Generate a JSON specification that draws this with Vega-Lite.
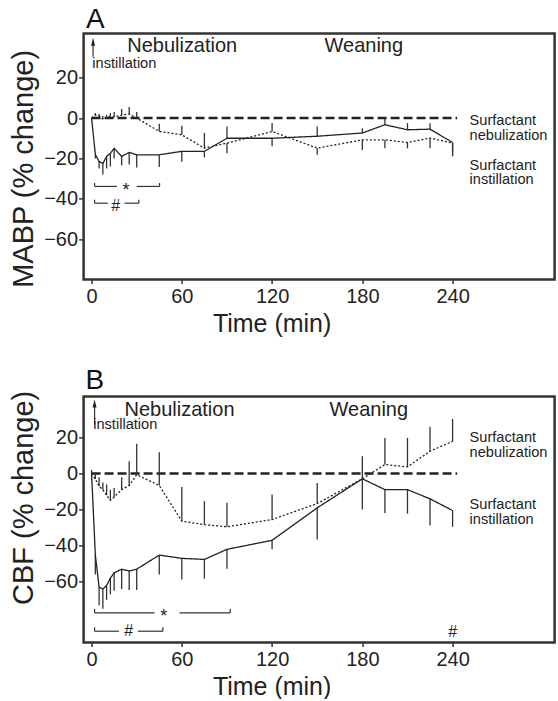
{
 "$schema": "https://vega.github.io/schema/vega-lite/v6.json",
 "autosize": {"type": "pad"},
 "padding": {"left": 8.6, "top": 5.4, "right": 0, "bottom": 0},
 "background": "white",
 "spacing": 117,
 "bounds": "flush",
 "resolve": {"scale": {"x": "independent", "y": "independent"}},
 "config": {
  "view": {"stroke": null},
  "font": "Liberation Sans",
  "axis": {"domain": false, "grid": false, "tickColor": "#333", "tickWidth": 1.5, "tickSize": 5, "labelFont": "Liberation Sans", "labelFontSize": 20, "labelColor": "#222", "titleFont": "Liberation Sans", "titleFontWeight": "normal", "titleColor": "#222", "labelFlush": false}
 },
 "datasets": {
  "a_series": [
   {"s": "inst", "t": 0, "v": 0, "e": 0}, {"s": "inst", "t": 2.5, "v": -18, "e": -20}, {"s": "inst", "t": 5, "v": -21.5, "e": -25}, {"s": "inst", "t": 7.5, "v": -22.5, "e": -28}, {"s": "inst", "t": 10, "v": -19, "e": -25}, {"s": "inst", "t": 12.5, "v": -17.5, "e": -24}, {"s": "inst", "t": 15, "v": -15, "e": -20}, {"s": "inst", "t": 20, "v": -19, "e": -23.5}, {"s": "inst", "t": 25, "v": -17, "e": -23}, {"s": "inst", "t": 30, "v": -18.2, "e": -24.5}, {"s": "inst", "t": 45, "v": -18.2, "e": -24.3}, {"s": "inst", "t": 60, "v": -16.5, "e": -21.6}, {"s": "inst", "t": 75, "v": -16.5, "e": -19.5}, {"s": "inst", "t": 90, "v": -10, "e": -4.2}, {"s": "inst", "t": 120, "v": -10, "e": -14}, {"s": "inst", "t": 150, "v": -9, "e": -4.2}, {"s": "inst", "t": 180, "v": -7.4, "e": -5}, {"s": "inst", "t": 195, "v": -3.3, "e": 0}, {"s": "inst", "t": 210, "v": -5.8, "e": -2.5}, {"s": "inst", "t": 225, "v": -5.5, "e": -2.5}, {"s": "inst", "t": 240, "v": -12.1, "e": -19},
   {"s": "neb", "t": 0, "v": 0, "e": 0}, {"s": "neb", "t": 2.5, "v": 1.5, "e": 2.5}, {"s": "neb", "t": 5, "v": 1, "e": 2}, {"s": "neb", "t": 7.5, "v": -0.5, "e": 1}, {"s": "neb", "t": 10, "v": 0, "e": 1.5}, {"s": "neb", "t": 12.5, "v": 1, "e": 2.5}, {"s": "neb", "t": 15, "v": 0.5, "e": 3}, {"s": "neb", "t": 20, "v": 1.5, "e": 4.5}, {"s": "neb", "t": 25, "v": 2, "e": 5.5}, {"s": "neb", "t": 30, "v": 0, "e": 3}, {"s": "neb", "t": 45, "v": -6.6, "e": -2.8}, {"s": "neb", "t": 60, "v": -8.3, "e": -3.8}, {"s": "neb", "t": 75, "v": -14.9, "e": -7.4}, {"s": "neb", "t": 90, "v": -12.4, "e": -17.4}, {"s": "neb", "t": 120, "v": -6.6, "e": -2.4}, {"s": "neb", "t": 150, "v": -14.9, "e": -18.2}, {"s": "neb", "t": 180, "v": -10.8, "e": -15.8}, {"s": "neb", "t": 195, "v": -10.8, "e": -14.9}, {"s": "neb", "t": 210, "v": -12.1, "e": -15}, {"s": "neb", "t": 225, "v": -9.9, "e": -14.9}, {"s": "neb", "t": 240, "v": -12.4, "e": -17}
  ],
  "b_series": [
   {"s": "inst", "t": 0, "v": 0, "e": 0}, {"s": "inst", "t": 2.5, "v": -45, "e": -56}, {"s": "inst", "t": 5, "v": -63, "e": -73}, {"s": "inst", "t": 7.5, "v": -64, "e": -75}, {"s": "inst", "t": 10, "v": -62, "e": -70}, {"s": "inst", "t": 12.5, "v": -58, "e": -67}, {"s": "inst", "t": 15, "v": -55, "e": -65}, {"s": "inst", "t": 20, "v": -53, "e": -64}, {"s": "inst", "t": 25, "v": -54, "e": -64.5}, {"s": "inst", "t": 30, "v": -53, "e": -64.5}, {"s": "inst", "t": 45, "v": -45.2, "e": -56}, {"s": "inst", "t": 60, "v": -47, "e": -58.7}, {"s": "inst", "t": 75, "v": -47.6, "e": -58.3}, {"s": "inst", "t": 90, "v": -42, "e": -52.8}, {"s": "inst", "t": 120, "v": -37, "e": -42}, {"s": "inst", "t": 150, "v": -19, "e": -36.6}, {"s": "inst", "t": 180, "v": -2.9, "e": -19.9}, {"s": "inst", "t": 195, "v": -8.9, "e": -21.8}, {"s": "inst", "t": 210, "v": -8.9, "e": -22.2}, {"s": "inst", "t": 225, "v": -14, "e": -28.8}, {"s": "inst", "t": 240, "v": -20.5, "e": -29.5},
   {"s": "neb", "t": 0, "v": 0, "e": 2}, {"s": "neb", "t": 2.5, "v": -3, "e": 0}, {"s": "neb", "t": 5, "v": -7, "e": -2}, {"s": "neb", "t": 7.5, "v": -9, "e": -5}, {"s": "neb", "t": 10, "v": -12, "e": -6}, {"s": "neb", "t": 12.5, "v": -14.8, "e": -9}, {"s": "neb", "t": 15, "v": -13, "e": -8}, {"s": "neb", "t": 20, "v": -8.9, "e": -2}, {"s": "neb", "t": 25, "v": -6.6, "e": 6.8}, {"s": "neb", "t": 30, "v": -0.6, "e": 16.6}, {"s": "neb", "t": 45, "v": -6.6, "e": 11.8}, {"s": "neb", "t": 60, "v": -26.4, "e": -7.4}, {"s": "neb", "t": 75, "v": -28.3, "e": -15.3}, {"s": "neb", "t": 90, "v": -29.5, "e": -16.2}, {"s": "neb", "t": 120, "v": -25.5, "e": -11.6}, {"s": "neb", "t": 150, "v": -16.6, "e": -5.2}, {"s": "neb", "t": 180, "v": -2.9, "e": 9.6}, {"s": "neb", "t": 195, "v": 5, "e": 19.8}, {"s": "neb", "t": 210, "v": 3.7, "e": 19.8}, {"s": "neb", "t": 225, "v": 12.4, "e": 25.9}, {"s": "neb", "t": 240, "v": 17.9, "e": 30.3}
  ],
  "a_brk": [
   {"t": 2, "t2": 16.8, "v": -33.9, "v2": -33.9}, {"t": 30.1, "t2": 45.2, "v": -33.9, "v2": -33.9}, {"t": 2, "t2": 2, "v": -33.9, "v2": -32.2}, {"t": 45.2, "t2": 45.2, "v": -33.9, "v2": -32.2},
   {"t": 2, "t2": 10.8, "v": -42.2, "v2": -42.2}, {"t": 21.9, "t2": 31.4, "v": -42.2, "v2": -42.2}, {"t": 2, "t2": 2, "v": -42.2, "v2": -40.5}, {"t": 31.4, "t2": 31.4, "v": -42.2, "v2": -40.5},
   {"t": 1, "t2": 1, "v": 30.4, "v2": 37}
  ],
  "b_brk": [
   {"t": 2, "t2": 41.9, "v": -77.2, "v2": -77.2}, {"t": 58.5, "t2": 92.2, "v": -77.2, "v2": -77.2}, {"t": 2, "t2": 2, "v": -77.2, "v2": -75}, {"t": 92.2, "t2": 92.2, "v": -77.2, "v2": -75},
   {"t": 2, "t2": 18.2, "v": -87.4, "v2": -87.4}, {"t": 30.8, "t2": 47.4, "v": -87.4, "v2": -87.4}, {"t": 2, "t2": 2, "v": -87.4, "v2": -85.2}, {"t": 47.4, "t2": 47.4, "v": -87.4, "v2": -85.2},
   {"t": 2, "t2": 2, "v": 27.1, "v2": 38}
  ],
  "a_notes": [
   {"kind": "panel", "t": -3.7, "v": 44.7, "text": "A"},
   {"kind": "big", "t": 23.7, "v": 32.6, "text": "Nebulization"},
   {"kind": "big", "t": 154.9, "v": 32.6, "text": "Weaning"},
   {"kind": "small", "t": 0.5, "v": 24.7, "text": "instillation"},
   {"kind": "small", "t": 251.3, "v": -3.3, "text": "Surfactant"},
   {"kind": "small", "t": 251.3, "v": -10.8, "text": "nebulization"},
   {"kind": "small", "t": 251.3, "v": -25.7, "text": "Surfactant"},
   {"kind": "small", "t": 251.3, "v": -32.6, "text": "instillation"},
   {"kind": "star", "t": 22.9, "v": -38.4, "text": "*"},
   {"kind": "hash", "t": 16, "v": -46.2, "text": "#"},
   {"kind": "head", "t": 1, "v": 37.9, "text": ""}
  ],
  "b_notes": [
   {"kind": "panel", "t": -4, "v": 46.9, "text": "B"},
   {"kind": "big", "t": 21.9, "v": 32.1, "text": "Nebulization"},
   {"kind": "big", "t": 158.2, "v": 32.1, "text": "Weaning"},
   {"kind": "small", "t": 1.1, "v": 24.9, "text": "instillation"},
   {"kind": "small", "t": 251.3, "v": 17.3, "text": "Surfactant"},
   {"kind": "small", "t": 251.3, "v": 9.4, "text": "nebulization"},
   {"kind": "small", "t": 251.3, "v": -19.7, "text": "Surfactant"},
   {"kind": "small", "t": 251.3, "v": -27.7, "text": "instillation"},
   {"kind": "star", "t": 48, "v": -82.2, "text": "*"},
   {"kind": "hash", "t": 24.6, "v": -90, "text": "#"},
   {"kind": "hash", "t": 240, "v": -90.5, "text": "#"},
   {"kind": "head", "t": 2, "v": 38.8, "text": ""}
  ]
 },
 "vconcat": [
  {
   "width": 471, "height": 246,
   "encoding": {
    "x": {"field": "t", "type": "quantitative", "scale": {"domain": [-5.3, 307.8], "nice": false, "zero": false}, "axis": {"values": [0, 60, 120, 180, 240], "title": "Time (min)", "titleFontSize": 25, "titleX": 188, "titleY": 52, "titleBaseline": "alphabetic", "labelPadding": 3, "tickSize": 4}},
    "y": {"field": "v", "type": "quantitative", "scale": {"domain": [-80, 42], "nice": false, "zero": false}, "axis": {"values": [20, 0, -20, -40, -60], "title": "MABP (% change)", "titleFontSize": 29, "titleX": -51, "titleY": 135, "titleBaseline": "alphabetic", "titleAngle": 270, "labelPadding": 1}}
   },
   "layer": [
    {"data": {"values": [{"t": -5.3, "t2": 307.8, "v": -80, "v2": 42}]}, "mark": {"type": "rect", "filled": false, "fill": null, "stroke": "#333", "strokeWidth": 2.5}, "encoding": {"x2": {"field": "t2"}, "y2": {"field": "v2"}}},
    {"data": {"values": [{"t": 0, "t2": 243, "v": 0, "v2": 0}]}, "mark": {"type": "rule", "strokeDash": [9, 4], "strokeWidth": 2.5, "color": "#222"}, "encoding": {"x2": {"field": "t2"}, "y2": {"field": "v2"}}},
    {"data": {"name": "a_series"}, "mark": {"type": "rule", "strokeWidth": 1.3, "color": "#333"}, "encoding": {"y2": {"field": "e"}}},
    {"data": {"name": "a_series"}, "mark": {"type": "line", "strokeWidth": 1.3, "color": "#222"}, "encoding": {"strokeDash": {"field": "s", "type": "nominal", "scale": {"domain": ["inst", "neb"], "range": [[1, 0], [2, 2]]}, "legend": null}}},
    {"data": {"name": "a_brk"}, "mark": {"type": "rule", "strokeWidth": 1.2, "color": "#333"}, "encoding": {"x2": {"field": "t2"}, "y2": {"field": "v2"}}},
    {"data": {"name": "a_notes"}, "transform": [{"filter": "datum.kind == 'panel'"}], "mark": {"type": "text", "fontSize": 28, "align": "left", "baseline": "alphabetic", "color": "#111"}, "encoding": {"text": {"field": "text"}}},
    {"data": {"name": "a_notes"}, "transform": [{"filter": "datum.kind == 'big'"}], "mark": {"type": "text", "fontSize": 20, "align": "left", "baseline": "alphabetic", "color": "#222"}, "encoding": {"text": {"field": "text"}}},
    {"data": {"name": "a_notes"}, "transform": [{"filter": "datum.kind == 'small'"}], "mark": {"type": "text", "fontSize": 14.6, "align": "left", "baseline": "alphabetic", "color": "#222"}, "encoding": {"text": {"field": "text"}}},
    {"data": {"name": "a_notes"}, "transform": [{"filter": "datum.kind == 'star'"}], "mark": {"type": "text", "fontSize": 18, "align": "center", "baseline": "alphabetic", "color": "#222"}, "encoding": {"text": {"field": "text"}}},
    {"data": {"name": "a_notes"}, "transform": [{"filter": "datum.kind == 'hash'"}], "mark": {"type": "text", "fontSize": 16, "align": "center", "baseline": "alphabetic", "color": "#222"}, "encoding": {"text": {"field": "text"}}},
    {"data": {"name": "a_notes"}, "transform": [{"filter": "datum.kind == 'head'"}], "mark": {"type": "point", "shape": "M-0.5,1L0,-1L0.5,1Z", "size": 64, "filled": true, "opacity": 1, "color": "#222"}}
   ]
  },
  {
   "width": 471, "height": 246,
   "encoding": {
    "x": {"field": "t", "type": "quantitative", "scale": {"domain": [-5.3, 307.8], "nice": false, "zero": false}, "axis": {"values": [0, 60, 120, 180, 240], "title": "Time (min)", "titleFontSize": 25, "titleX": 188, "titleY": 52, "titleBaseline": "alphabetic", "labelPadding": 3, "tickSize": 4}},
    "y": {"field": "v", "type": "quantitative", "scale": {"domain": [-93.6, 42.8], "nice": false, "zero": false}, "axis": {"values": [20, 0, -20, -40, -60], "title": "CBF (% change)", "titleFontSize": 29, "titleX": -51, "titleY": 101, "titleBaseline": "alphabetic", "titleAngle": 270, "labelPadding": 1}}
   },
   "layer": [
    {"data": {"values": [{"t": -5.3, "t2": 307.8, "v": -93.6, "v2": 42.8}]}, "mark": {"type": "rect", "filled": false, "fill": null, "stroke": "#333", "strokeWidth": 2.5}, "encoding": {"x2": {"field": "t2"}, "y2": {"field": "v2"}}},
    {"data": {"values": [{"t": 0, "t2": 243, "v": 0, "v2": 0}]}, "mark": {"type": "rule", "strokeDash": [9, 4], "strokeWidth": 2.5, "color": "#222"}, "encoding": {"x2": {"field": "t2"}, "y2": {"field": "v2"}}},
    {"data": {"name": "b_series"}, "mark": {"type": "rule", "strokeWidth": 1.3, "color": "#333"}, "encoding": {"y2": {"field": "e"}}},
    {"data": {"name": "b_series"}, "mark": {"type": "line", "strokeWidth": 1.3, "color": "#222"}, "encoding": {"strokeDash": {"field": "s", "type": "nominal", "scale": {"domain": ["inst", "neb"], "range": [[1, 0], [2, 2]]}, "legend": null}}},
    {"data": {"name": "b_brk"}, "mark": {"type": "rule", "strokeWidth": 1.2, "color": "#333"}, "encoding": {"x2": {"field": "t2"}, "y2": {"field": "v2"}}},
    {"data": {"name": "b_notes"}, "transform": [{"filter": "datum.kind == 'panel'"}], "mark": {"type": "text", "fontSize": 28, "align": "left", "baseline": "alphabetic", "color": "#111"}, "encoding": {"text": {"field": "text"}}},
    {"data": {"name": "b_notes"}, "transform": [{"filter": "datum.kind == 'big'"}], "mark": {"type": "text", "fontSize": 20, "align": "left", "baseline": "alphabetic", "color": "#222"}, "encoding": {"text": {"field": "text"}}},
    {"data": {"name": "b_notes"}, "transform": [{"filter": "datum.kind == 'small'"}], "mark": {"type": "text", "fontSize": 14.6, "align": "left", "baseline": "alphabetic", "color": "#222"}, "encoding": {"text": {"field": "text"}}},
    {"data": {"name": "b_notes"}, "transform": [{"filter": "datum.kind == 'star'"}], "mark": {"type": "text", "fontSize": 18, "align": "center", "baseline": "alphabetic", "color": "#222"}, "encoding": {"text": {"field": "text"}}},
    {"data": {"name": "b_notes"}, "transform": [{"filter": "datum.kind == 'hash'"}], "mark": {"type": "text", "fontSize": 16, "align": "center", "baseline": "alphabetic", "color": "#222"}, "encoding": {"text": {"field": "text"}}},
    {"data": {"name": "b_notes"}, "transform": [{"filter": "datum.kind == 'head'"}], "mark": {"type": "point", "shape": "M-0.5,1L0,-1L0.5,1Z", "size": 64, "filled": true, "opacity": 1, "color": "#222"}}
   ]
  }
 ]
}
